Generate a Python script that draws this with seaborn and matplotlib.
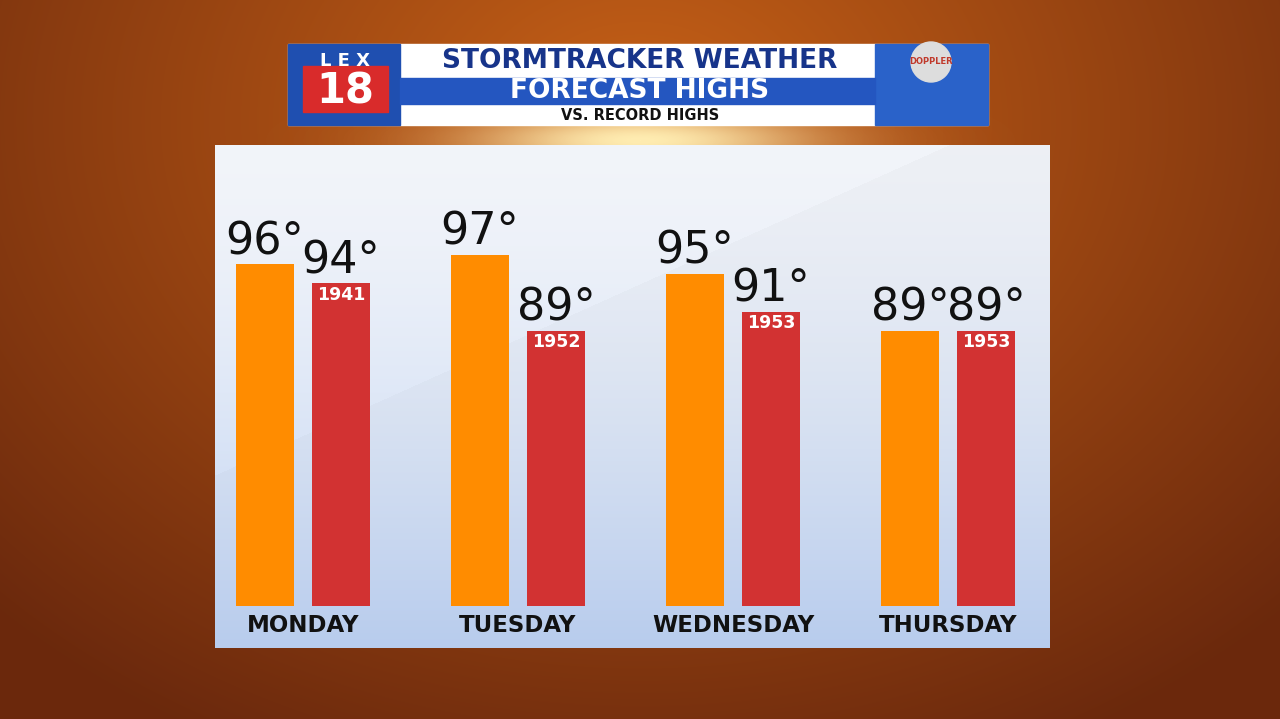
import numpy as np
import pandas as pd
import matplotlib
matplotlib.use("Agg")
import matplotlib.pyplot as plt
import seaborn as sns
from matplotlib.patches import Rectangle

days = ["MONDAY", "TUESDAY", "WEDNESDAY", "THURSDAY"]
forecast = [96, 97, 95, 89]
record = [94, 89, 91, 89]
record_years = ["1941", "1952", "1953", "1953"]
BASE = 60

W, H = 1280, 719
fig = plt.figure(figsize=(12.8, 7.19), dpi=100)

# background gradient
bg = fig.add_axes([0, 0, 1, 1])
yy, xx = np.mgrid[0:H, 0:W]
r = np.sqrt(((xx - 640) / 900) ** 2 + ((yy - 120) / 700) ** 2)
r = np.clip(r, 0, 1)
c0 = np.array([0.78, 0.38, 0.09]); c1 = np.array([0.42, 0.16, 0.05])
img = c0[None, None, :] * (1 - r[..., None]) + c1[None, None, :] * r[..., None]
bg.imshow(img, extent=[0, W, H, 0], aspect="auto")
# sun glow
g = np.exp(-(((xx - 640) / 170) ** 2 + ((yy - 140) / 30) ** 2))
glow = np.zeros((H, W, 4)); glow[..., 0] = 1; glow[..., 1] = 0.93; glow[..., 2] = 0.7; glow[..., 3] = g
bg.imshow(glow, extent=[0, W, H, 0], aspect="auto")
bg.set_xlim(0, W); bg.set_ylim(H, 0); bg.axis("off")

# header banner
bg.add_patch(Rectangle((288, 44), 700, 81, color="white", zorder=3))
bg.add_patch(Rectangle((288, 44), 112, 81, color="#1f4fb0", zorder=4))
bg.add_patch(Rectangle((875, 44), 113, 81, color="#2a62c9", zorder=4))
bg.add_patch(Rectangle((400, 78), 475, 26, color="#2456c0", zorder=4))
bg.add_patch(Rectangle((303, 66), 85, 46, color="#d92b2b", zorder=5))
bg.text(345, 61, "L E X", color="white", fontsize=13, fontweight="bold", ha="center", va="center", zorder=6)
bg.text(345, 92, "18", color="white", fontsize=30, fontweight="bold", ha="center", va="center", zorder=6)
bg.add_patch(plt.Circle((931, 62), 20, color="#dddddd", zorder=5))
bg.text(931, 62, "DOPPLER", color="#c0392b", fontsize=6, fontweight="bold", ha="center", va="center", zorder=6)
bg.text(640, 61, "STORMTRACKER WEATHER", color="#17348a", fontsize=19, fontweight="bold",
        ha="center", va="center", family="DejaVu Sans", zorder=6)
bg.text(640, 91, "FORECAST HIGHS", color="white", fontsize=19, fontweight="bold",
        ha="center", va="center", family="DejaVu Sans", zorder=6)
bg.text(640, 116, "VS. RECORD HIGHS", color="#111111", fontsize=10.5, fontweight="bold",
        ha="center", va="center", family="DejaVu Sans", zorder=6)

# panel axes
ax = fig.add_axes([215 / W, 1 - 648 / H, 835 / W, 503 / H])
ph, pw = 503, 835
py, px = np.mgrid[0:ph, 0:pw]
t = py / ph
pan = np.zeros((ph, pw, 3))
top = np.array([0.93, 0.94, 0.96]); bot = np.array([0.72, 0.80, 0.93])
pan[:] = top * (1 - t[..., None] ** 1.5) + bot * t[..., None] ** 1.5
diag = (py - (330 - px * 0.45)) < 0
pan[diag] = np.minimum(pan[diag] * 1.02, 1)
x0 = (215 - 303) / 215; x1 = (1050 - 303) / 215
y0 = (606 - 648) / 9.5; y1 = (606 - 145) / 9.5
ax.imshow(pan, extent=[x0, x1, y0, y1], aspect="auto", zorder=0)

df = pd.DataFrame({
    "day": days * 2,
    "kind": ["Forecast"] * 4 + ["Record"] * 4,
    "height": [v - BASE for v in forecast] + [v - BASE for v in record],
})
sns.barplot(data=df, x="day", y="height", hue="kind", palette=["#ff8c00", "#d23232"],
            ax=ax, legend=False, saturation=1, zorder=2)
bw = 58 / 215; gap = 18 / 215
for p in ax.patches:
    if p.get_height() <= 0:
        continue
    cx = p.get_x() + p.get_width() / 2
    i = int(round(cx))
    off = -(bw + gap) / 2 if cx < i else (bw + gap) / 2
    p.set_width(bw); p.set_x(i + off - bw / 2); p.set_edgecolor("none")

fs = dict(fontsize=32, family="DejaVu Sans", color="#111111", ha="center", va="bottom", zorder=5)
for i in range(4):
    fx = i - (bw + gap) / 2; rx = i + (bw + gap) / 2
    ax.text(fx, forecast[i] - BASE + 0.1, f"{forecast[i]}°", **fs)
    ax.text(rx, record[i] - BASE + 0.1, f"{record[i]}°", **fs)
    ax.text(rx, record[i] - BASE - 0.3, record_years[i], fontsize=12.5, fontweight="bold",
            color="white", ha="center", va="top", zorder=5)
    ax.text(i, -2.0, days[i], fontsize=16.5, fontweight="bold", family="DejaVu Sans",
            color="#111111", ha="center", va="center", zorder=5)

ax.set_xlim(x0, x1); ax.set_ylim(y0, y1)
ax.axis("off")
fig.savefig("out.png", dpi=100)
